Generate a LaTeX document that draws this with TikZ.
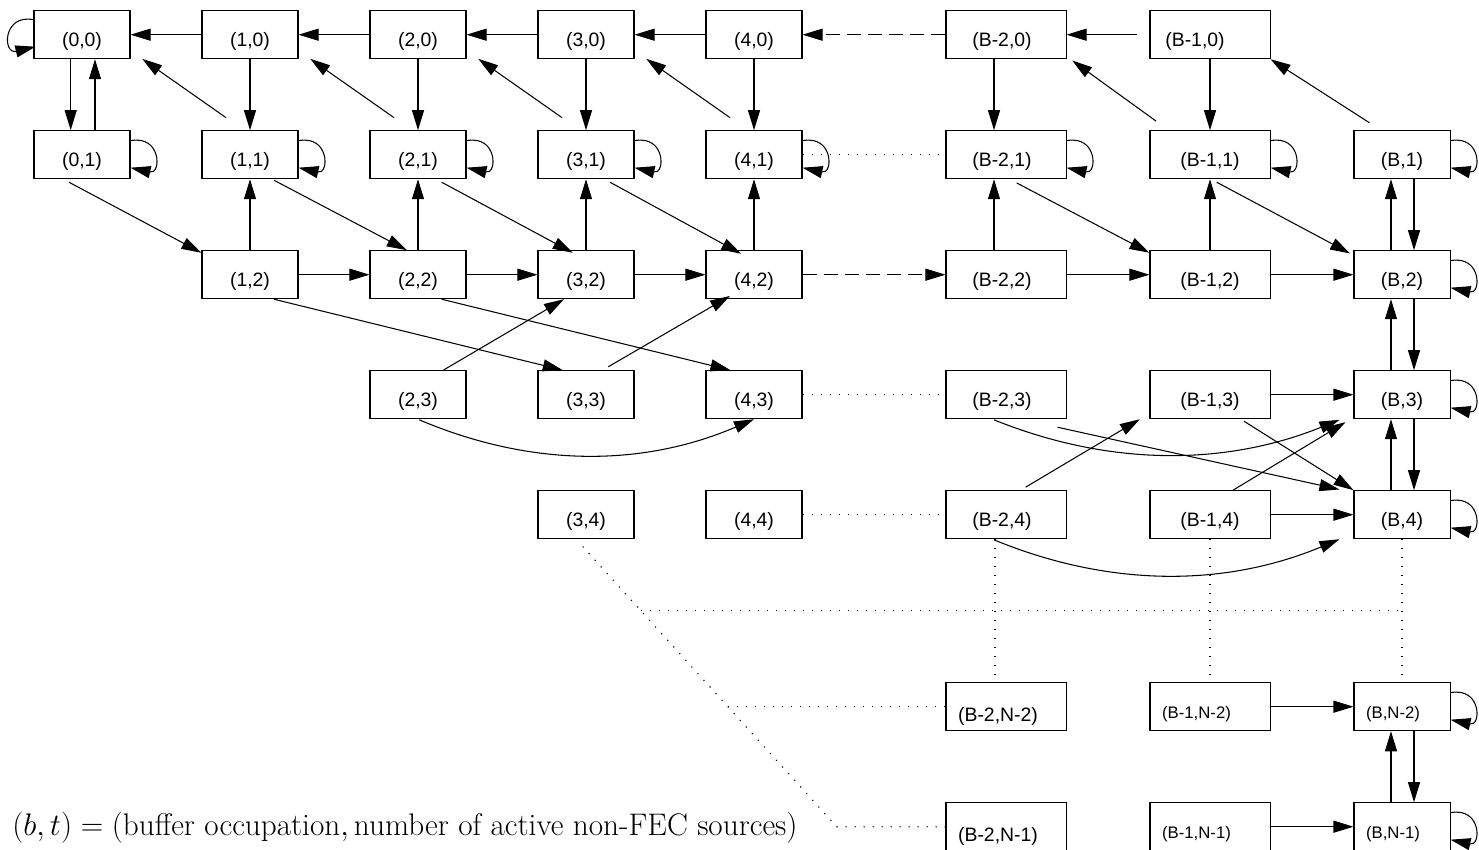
\RequirePackage{fix-cm}
\documentclass[tikz,border=0pt]{standalone}
\usepackage{fontspec}
\newfontfamily\hv{Liberation Sans}
\usetikzlibrary{arrows.meta,calc}
\newcommand{\rloop}[1]{\draw[arr] ($(#1.east)+(0,-14)$) .. controls ($(#1.east)+(31,-20)$) and ($(#1.east)+(31,20)$) .. ($(#1.east)+(0,13)$);}
\newcommand{\lloop}[1]{\draw[arr] ($(#1.west)+(0,-15)$) .. controls ($(#1.west)+(-31,-21)$) and ($(#1.west)+(-31,20)$) .. ($(#1.west)+(2,12)$);}
\begin{document}
\begin{tikzpicture}[x=0.025cm,y=-0.025cm,
  st/.style={draw, line width=0.75pt, inner sep=0pt, minimum width=2.4cm, text height=0.9cm, text depth=0.3cm, font=\hv\fontsize{13.8}{16}\selectfont},
  wst/.style={st, minimum width=3cm},
  sm/.style={font=\hv\fontsize{11.9}{14}\selectfont},
  low/.style={text height=0.975cm, text depth=0.225cm},
  arr/.style={-{Triangle[length=0.5cm,width=0.3cm]}, line width=0.75pt},
  dsh/.style={arr, dash pattern=on 10pt off 5pt},
  dot/.style={line width=0.8pt, dash pattern=on 0.8pt off 5.6pt}]
\useasboundingbox (0,0) rectangle (1479,849);
% row 0
\node[st] (a00) at (82,34.7) {(0,0)};
\node[st] (a10) at (250,34.7) {(1,0)};
\node[st] (a20) at (418,34.7) {(2,0)};
\node[st] (a30) at (586,34.7) {(3,0)};
\node[st] (a40) at (754,34.7) {(4,0)};
\node[wst] (m0) at (1006,34.7) {(B-2,0)\hspace*{0.2cm}};
\node[wst] (p0) at (1210,34.7) {(B-1,0)\hspace*{0.75cm}};
% row 1
\node[st] (a01) at (82,154.7) {(0,1)};
\node[st] (a11) at (250,154.7) {(1,1)};
\node[st] (a21) at (418,154.7) {(2,1)};
\node[st] (a31) at (586,154.7) {(3,1)};
\node[st] (a41) at (754,154.7) {(4,1)};
\node[wst] (m1) at (1006,154.7) {(B-2,1)\hspace*{0.2cm}};
\node[wst] (p1) at (1210,154.7) {(B-1,1)};
\node[st] (q1) at (1402,154.7) {(B,1)};
% row 2
\node[st] (a12) at (250,274.7) {(1,2)};
\node[st] (a22) at (418,274.7) {(2,2)};
\node[st] (a32) at (586,274.7) {(3,2)};
\node[st] (a42) at (754,274.7) {(4,2)};
\node[wst] (m2) at (1006,274.7) {(B-2,2)\hspace*{0.2cm}};
\node[wst] (p2) at (1210,274.7) {(B-1,2)};
\node[st] (q2) at (1402,274.7) {(B,2)};
% row 3
\node[st] (a23) at (418,394.7) {(2,3)};
\node[st] (a33) at (586,394.7) {(3,3)};
\node[st] (a43) at (754,394.7) {(4,3)};
\node[wst] (m3) at (1006,394.7) {(B-2,3)\hspace*{0.2cm}};
\node[wst] (p3) at (1210,394.7) {(B-1,3)};
\node[st] (q3) at (1402,394.7) {(B,3)};
% row 4
\node[st] (a34) at (586,514.7) {(3,4)};
\node[st] (a44) at (754,514.7) {(4,4)};
\node[wst] (m4) at (1006,514.7) {(B-2,4)\hspace*{0.2cm}};
\node[wst] (p4) at (1210,514.7) {(B-1,4)};
\node[st] (q4) at (1402,514.7) {(B,4)};
% rows N-2, N-1
\node[wst,low] (mN2) at (1006,706.7) {(B-2,N-2)\hspace*{0.4cm}};
\node[wst,sm] (pN2) at (1210,706.7) {(B-1,N-2)\hspace*{0.675cm}};
\node[st,sm] (qN2) at (1402,706.7) {(B,N-2)\hspace*{0.45cm}};
\node[wst,low] (mN1) at (1006,826.7) {(B-2,N-1)\hspace*{0.4cm}};
\node[wst,sm] (pN1) at (1210,826.7) {(B-1,N-1)\hspace*{0.675cm}};
\node[st,sm] (qN1) at (1402,826.7) {(B,N-1)\hspace*{0.45cm}};
% caption
\node[anchor=west, inner sep=0pt, font=\fontsize{22.2}{27}\selectfont] (lab) at (12,827.5)
  {$(b,t) = (\mbox{buffer occupation},\mbox{number of active non-FEC sources})$};

% row 0 horizontal
\draw[arr] (a10.west) -- (a00.east);
\draw[arr] (a20.west) -- (a10.east);
\draw[arr] (a30.west) -- (a20.east);
\draw[arr] (a40.west) -- (a30.east);
\draw[dsh] (m0.west) -- (a40.east);
\draw[arr] ($(p0.west)+(-12,0)$) -- (m0.east);
% row 0 - row 1 vertical
\draw[arr] ($(a00.south)+(-11.3,0)$) -- ($(a01.north)+(-11.3,0)$);
\draw[arr] ($(a01.north)+(13,0)$) -- ($(a00.south)+(13,0)$);
\foreach \i in {1,2,3,4} {\draw[arr] (a\i0.south) -- (a\i1.north);}
\draw[arr] ($(m0.south)+(-12,0)$) -- ($(m1.north)+(-12,0)$);
\draw[arr] (p0.south) -- (p1.north);
% up-left diagonals
\draw[arr] ($(a11.north west)+(24.7,-12.4)$) -- ($(a00.south east)+(11.7,-0.4)$);
\draw[arr] ($(a21.north west)+(24.7,-12.4)$) -- ($(a10.south east)+(11.7,-0.4)$);
\draw[arr] ($(a31.north west)+(24.7,-12.4)$) -- ($(a20.south east)+(11.7,-0.4)$);
\draw[arr] ($(a41.north west)+(24.7,-12.4)$) -- ($(a30.south east)+(11.7,-0.4)$);
\draw[arr] ($(p1.north west)+(6.7,-9)$) -- ($(m0.south east)+(5.7,1.3)$);
\draw[arr] ($(q1.north west)+(16,-7.4)$) -- (p0.south east);
% row 1 - row 2 diagonals
\draw[arr] ($(a01.south)+(-13,3)$) -- ($(a12.north west)+(0,2.6)$);
\draw[arr] ($(a11.south)+(24,1)$) -- ($(a22.north west)+(37.3,0)$);
\draw[arr] ($(a21.south)+(23.7,3)$) -- ($(a32.north west)+(35.3,2.6)$);
\draw[arr] ($(a31.south)+(24,3)$) -- ($(a42.north west)+(35.7,3.6)$);
\draw[arr] ($(m1.south)+(10.7,3.7)$) -- ($(p2.north west)+(0,2.6)$);
\draw[arr] ($(p1.south)+(6.7,3)$) -- ($(q2.north west)+(-3.3,3.3)$);
% row 2 up verticals
\foreach \i in {1,2,3,4} {\draw[arr] (a\i2.north) -- (a\i1.south);}
\draw[arr] ($(m2.north)+(-12,0)$) -- ($(m1.south)+(-12,0)$);
\draw[arr] (p2.north) -- (p1.south);
% B column verticals
\draw[arr] ($(q2.north)+(-11,0)$) -- ($(q1.south)+(-11,0)$);
\draw[arr] ($(q1.south)+(12,0)$) -- ($(q2.north)+(12,0)$);
\draw[arr] ($(q3.north)+(-11,0)$) -- ($(q2.south)+(-11,0)$);
\draw[arr] ($(q2.south)+(12,0)$) -- ($(q3.north)+(12,0)$);
\draw[arr] ($(q4.north)+(-11,0)$) -- ($(q3.south)+(-11,0)$);
\draw[arr] ($(q3.south)+(12,0)$) -- ($(q4.north)+(12,0)$);
\draw[arr] ($(qN1.north)+(-11,0)$) -- ($(qN2.south)+(-11,0)$);
\draw[arr] ($(qN2.south)+(12,0)$) -- ($(qN1.north)+(12,0)$);
% row 2 horizontal
\draw[arr] (a12.east) -- (a22.west);
\draw[arr] (a22.east) -- (a32.west);
\draw[arr] (a32.east) -- (a42.west);
\draw[dsh] (a42.east) -- (m2.west);
\draw[arr] (m2.east) -- (p2.west);
\draw[arr] (p2.east) -- (q2.west);
% row 2 - row 3
\draw[arr] ($(a12.south)+(24,0)$) -- ($(a33.north west)+(25.3,0)$);
\draw[arr] ($(a22.south)+(23.7,0)$) -- ($(a43.north west)+(25,0)$);
\draw[arr] ($(a23.north)+(25.3,0)$) -- ($(a32.south)+(-22,0)$);
\draw[arr] ($(a33.north)+(22.3,-3.4)$) -- ($(a42.south)+(-24,-3.3)$);
\draw[arr] ($(a23.south)+(1.3,0.6)$) .. controls ($(a23.south)+(113,48)$) and ($(a43.south)+(-112,48)$) .. (a43.south);
% right part rows 3, 4
\draw[arr] (p3.east) -- (q3.west);
\draw[arr] (p4.east) -- (q4.west);
\draw[arr] ($(m3.south)+(-12,0.6)$) .. controls ($(m3.south)+(103,47)$) and ($(q3.south west)+(-129,47)$) .. ($(q3.south west)+(-14,0.6)$);
\draw[arr] ($(m4.south)+(-12,0.6)$) .. controls ($(m4.south)+(103,48)$) and ($(q4.south west)+(-129,48)$) .. ($(q4.south west)+(-14,0)$);
\draw[arr] ($(m3.south east)+(-9,8)$) -- ($(q4.north west)+(-14,-0.7)$);
\draw[arr] ($(p3.south)+(34,2)$) -- (q4.north west);
\draw[arr] ($(m4.north)+(19.6,-3)$) -- ($(p3.south west)+(-9.6,0)$);
\draw[arr] ($(p4.north)+(23,0)$) -- ($(q3.south west)+(-8,3)$);
% bottom rows
\draw[arr] (pN2.east) -- (qN2.west);
\draw[arr] (pN1.east) -- (qN1.west);
% dotted
\draw[dot] (a41.east) -- (m1.west);
\draw[dot] (a43.east) -- (m3.west);
\draw[dot] (a44.east) -- (m4.west);
\draw[dot] ($(m4.south)+(-11,0)$) -- ($(mN2.north)+(-11,0)$);
\draw[dot] (p4.south) -- (pN2.north);
\draw[dot] (q4.south) -- (qN2.north);
\coordinate (k) at (836.7,826.7);
\coordinate (d1) at (641.2,610.7);
\coordinate (d2) at (728.1,706.7);
\draw[dot] ($(a34.south)+(-3.3,7.3)$) -- (k) -- (mN1.west);
\draw[dot] (d1) -- (q4.south |- d1);
\draw[dot] (d2) -- (mN2.west);
% self loops
\lloop{a00}
\foreach \n in {a01,a11,a21,a31,a41,m1,p1,q1,q2,q3,q4,qN2,qN1} {\rloop{\n}}
\end{tikzpicture}
\end{document}
